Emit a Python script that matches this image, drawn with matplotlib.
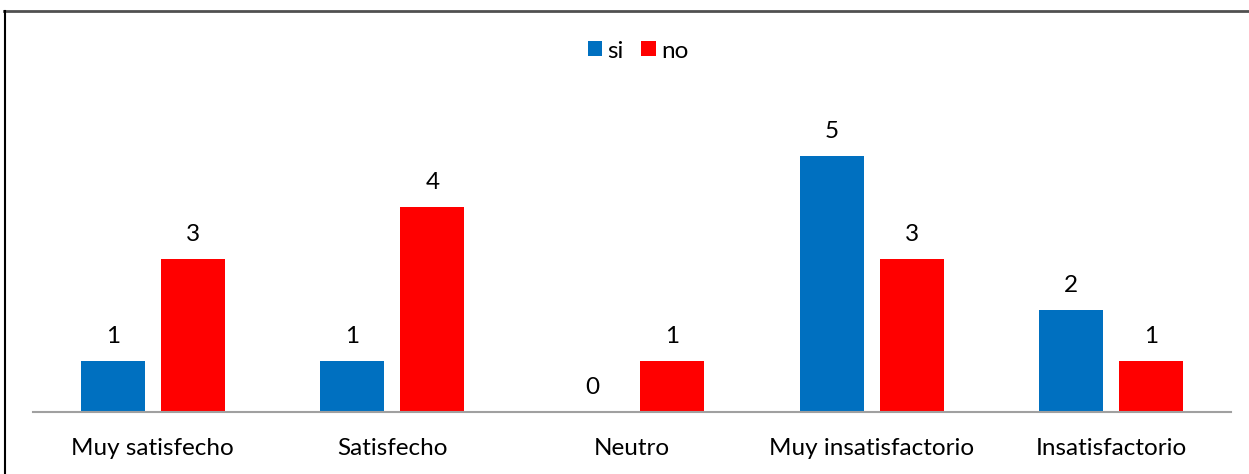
import matplotlib
matplotlib.use("Agg")
import matplotlib.pyplot as plt
from matplotlib.lines import Line2D
import numpy as np

categories = ["Muy satisfecho", "Satisfecho", "Neutro", "Muy insatisfactorio", "Insatisfactorio"]
si_values = [1, 1, 0, 5, 2]
no_values = [3, 4, 1, 3, 1]
series_names = ["si", "no"]

blue = "#0070C0"
red = "#FF0000"
font = "Lato"
fs = 17.5

W, H = 1249, 474
fig = plt.figure(figsize=(W / 100, H / 100), dpi=100)
ax = fig.add_axes([33 / W, (H - 412) / H, 1198 / W, 307 / H])

x = np.arange(len(categories))
bw = 0.267
off = 0.167
b1 = ax.bar(x - off, si_values, bw, color=blue, label=series_names[0])
b2 = ax.bar(x + off, no_values, bw, color=red, label=series_names[1])

for bars, vals in ((b1, si_values), (b2, no_values)):
    for rect, v in zip(bars, vals):
        ax.annotate(str(v), (rect.get_x() + rect.get_width() / 2, v),
                    xytext=(0, 10), textcoords="offset points",
                    ha="center", va="bottom", fontsize=fs, family=font, color="#000000")

ax.set_xlim(-0.5, len(categories) - 0.5)
ax.set_ylim(0, 6)
ax.set_yticks([])
ax.set_xticks(x)
ax.set_xticklabels(categories, fontsize=fs, family=font)
ax.tick_params(axis="x", length=0, pad=19)
for s in ["top", "right", "left"]:
    ax.spines[s].set_visible(False)
ax.spines["bottom"].set_color("#A0A0A0")
ax.spines["bottom"].set_linewidth(1.5)

leg = fig.legend(handles=[b1, b2], labels=series_names, loc="center",
                 bbox_to_anchor=(638 / W, 1 - 51 / H), ncol=2, frameon=False,
                 handlelength=0.58, handleheight=0.58, handletextpad=0.22,
                 columnspacing=0.74, prop={"family": font, "size": fs})

# outer frame
fig.add_artist(Line2D([4 / W, 1.0], [1 - 11 / H, 1 - 11 / H], transform=fig.transFigure,
                      color="#505050", linewidth=2))
fig.add_artist(Line2D([4.5 / W, 4.5 / W], [0, 1 - 11 / H], transform=fig.transFigure,
                      color="#000000", linewidth=1.5))

fig.savefig("out.png", dpi=100)
